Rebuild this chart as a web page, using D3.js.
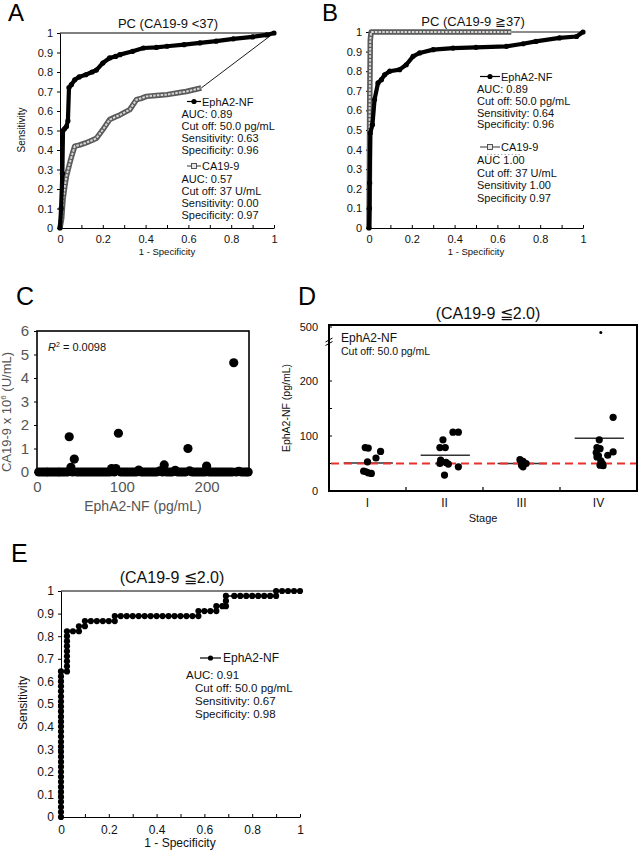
<!DOCTYPE html>
<html><head><meta charset="utf-8">
<script src="https://cdn.jsdelivr.net/npm/d3@7"></script>
<style>body{margin:0;background:#fff}</style>
</head><body>
<svg id="c" width="640" height="850" xmlns="http://www.w3.org/2000/svg"></svg>
<script>
// ---------------- DATA ----------------
const rocYTicks = [0,0.1,0.2,0.3,0.4,0.5,0.6,0.7,0.8,0.9,1];
const rocYLabels = ["0","0.1","0.2","0.3","0.4","0.5","0.6","0.7","0.8","0.9","1"];
const rocXMinor = [0,0.1,0.2,0.3,0.4,0.5,0.6,0.7,0.8,0.9,1];
const rocXTicks = [0,0.2,0.4,0.6,0.8,1];
const rocXLabels = ["0","0.2","0.4","0.6","0.8","1"];

// Panel A  PC (CA19-9 <37)
const aEphFpr = [0,0.005,0.011,0.014,0.022,0.03,0.037,0.042,0.053,0.069,0.09,0.12,0.15,0.17,0.2,0.232,0.26,0.28,0.34,0.39,0.45,0.5,0.58,0.654,0.73,0.81,0.9,0.966,1];
const aEphTpr = [0,0.1,0.28,0.5,0.51,0.52,0.55,0.72,0.735,0.76,0.775,0.786,0.8,0.81,0.846,0.872,0.88,0.889,0.906,0.923,0.926,0.932,0.94,0.949,0.958,0.97,0.98,0.99,1];
const aCaFpr = [0,0.008,0.014,0.022,0.03,0.045,0.055,0.069,0.09,0.12,0.15,0.17,0.2,0.232,0.26,0.28,0.326,0.357,0.38,0.404,0.45,0.5,0.56,0.59,0.63,0.66,1];
const aCaTpr = [0,0.05,0.145,0.21,0.265,0.33,0.37,0.42,0.425,0.436,0.45,0.46,0.504,0.556,0.57,0.58,0.607,0.658,0.665,0.675,0.68,0.684,0.695,0.70,0.71,0.718,1];
const aLegend1 = ["AUC: 0.89","Cut off: 50.0 pg/mL","Sensitivity: 0.63","Specificity: 0.96"];
const aLegend2 = ["AUC: 0.57","Cut off: 37 U/mL","Sensitivity: 0.00","Specificity: 0.97"];

// Panel B  PC (CA19-9 ≧37)
const bEphFpr = [0,0.002,0.003,0.006,0.016,0.026,0.042,0.058,0.073,0.097,0.143,0.174,0.206,0.237,0.3,0.393,0.5,0.642,0.72,0.78,0.89,0.97,1];
const bEphTpr = [0,0.1,0.23,0.485,0.527,0.655,0.74,0.757,0.782,0.8,0.808,0.833,0.876,0.893,0.91,0.918,0.922,0.927,0.94,0.952,0.97,0.977,1];
const bCaFpr = [0,0.002,0.003,0.006,0.01,0.1,0.2,0.3,0.4,0.5,0.6,0.665,1];
const bCaTpr = [0,0.3,0.6,0.96,1,1,1,1,1,1,1,1,1];
const bLegend1 = ["AUC: 0.89","Cut off: 50.0 pg/mL","Sensitivity: 0.64","Specificity: 0.96"];
const bLegend2 = ["AUC 1.00","Cut off: 37 U/mL","Sensitivity 1.00","Specificity 0.97"];

// Panel C  scatter
const cX = [38,40,44,88,93,96,120,145,150,163,178,180,200,232,238];
const cY = [1.5,0.2,0.55,0.15,0.15,1.65,0.08,0.05,0.3,0.07,1.0,0.05,0.25,4.65,0.03];
const cZeroX = [2,5,8,11,13,16,19,22,25,27,30,33,36,42,47,50,53,56,59,62,65,68,71,74,77,80,83,86,91,99,102,105,108,111,114,117,123,126,129,132,135,138,141,148,153,156,159,166,169,172,175,183,186,189,192,195,198,203,206,209,212,215,218,221,224,227,230,235,241,244,247,249];
const cXTicks = [0,100,200];
const cYTicks = [0,1,2,3,4,5,6];

// Panel D  stage dot plot
const stages = ["I","II","III","IV"];
const dStage = ["I","I","I","I","I","I","I","I","I",
  "II","II","II","II","II","II","II","II","II","II","II",
  "III","III","III","III","III",
  "IV","IV","IV","IV","IV","IV","IV","IV","IV","IV","IV","IV","IV"];
const dValue = [79,78,72,60,53,36,33,32,35,
  93,79,79,107,107,56,52,50,49,44,29,
  57,54,50,47,44,
  134,93,79,77,70,64,62,71,65,55,50,47,46];
const dJitter = [-0.03,0.01,0.17,0.11,0,-0.05,0.01,0.05,-0.02,
  -0.02,-0.06,0.01,0.11,0.18,-0.05,0.02,-0.06,0.05,0.18,0,
  -0.02,0.02,0.06,0,0.02,
  0.19,0.01,-0.02,0.02,-0.03,0,-0.02,0.19,0.12,0.03,0.05,0.02,0.06];
const dOutStage = ["IV"], dOutValue = [470], dOutJitter = [0.03];
const dMeans = [51,65,50,96];
const dCutoff = 50;
const dYTicks = [0,50,100,150,200,500];
const dYLabels = {0:"0",100:"100",200:"200",500:"500"};

// Panel E  ROC (CA19-9 ≦2.0)
const eFpr = [0,0,0,0,0,0,0,0,0,0,0,0,0,0,0,0,0,0,0,0,0,0,0,0,0,0,0,0,0,0,
  0.025,0.025,0.025,0.025,0.025,0.025,0.025,0.025,0.025,
  0.05,0.075,0.075,0.1,0.1,0.125,0.15,0.175,0.2,0.225,0.225,
  0.25,0.275,0.3,0.325,0.35,0.375,0.4,0.425,0.45,0.475,0.5,0.525,0.55,0.575,0.575,
  0.6,0.625,0.65,0.65,0.675,0.69,0.69,0.69,
  0.725,0.75,0.775,0.8,0.825,0.85,0.875,0.9,0.9,0.925,0.95,0.975,1];
const eTpr = [0,0.022,0.044,0.067,0.089,0.111,0.133,0.156,0.178,0.2,0.222,0.244,0.267,0.289,0.311,0.333,0.356,0.378,0.4,0.422,0.444,0.467,0.489,0.511,0.533,0.556,0.578,0.6,0.622,0.644,
  0.644,0.667,0.689,0.711,0.733,0.756,0.778,0.8,0.822,
  0.822,0.822,0.844,0.844,0.867,0.867,0.867,0.867,0.867,0.867,0.889,
  0.889,0.889,0.889,0.889,0.889,0.889,0.889,0.889,0.889,0.889,0.889,0.889,0.889,0.889,0.911,
  0.911,0.911,0.911,0.933,0.933,0.933,0.956,0.978,
  0.978,0.978,0.978,0.978,0.978,0.978,0.978,0.978,1,1,1,1,1];
const eLegend = ["Cut off: 50.0 pg/mL","Sensitivity: 0.67","Specificity: 0.98"];

// ---------------- DRAWING ----------------
const FONT = 'Arial, "Liberation Sans", Helvetica, sans-serif';
const svg = d3.select('#c').attr('font-family', FONT);

function txt(g, x, y, s, o = {}) {
  const t = g.append('text').attr('x', x).attr('y', y).text(s)
    .attr('font-size', o.fs || 11).attr('fill', o.fill || '#111')
    .attr('text-anchor', o.anchor || 'start');
  if (o.rot) t.attr('transform', `rotate(-90 ${x} ${y})`);
  return t;
}

function rocAxes(g, x, y, p) {
  const ya = d3.axisLeft(y).tickValues(rocYTicks).tickFormat((d, i) => rocYLabels[i])
    .tickSize(3).tickSizeOuter(0).tickPadding(4);
  const ga = g.append('g').attr('transform', `translate(${p.xr[0]},0)`).call(ya);
  ga.selectAll('text').attr('font-size', p.fs).attr('fill', '#111').attr('font-family', FONT);
  ga.selectAll('line,path').attr('stroke', '#000');
  const xa = d3.axisBottom(x).tickValues(rocXMinor)
    .tickFormat(d => { const i = rocXTicks.findIndex(v => Math.abs(v - d) < 1e-9); return i >= 0 ? rocXLabels[i] : ''; })
    .tickSize(-3).tickSizeOuter(0).tickPadding(p.xpad);
  const gb = g.append('g').attr('transform', `translate(0,${p.yr[0]})`).call(xa);
  gb.selectAll('text').attr('font-size', p.fs).attr('fill', '#111').attr('font-family', FONT);
  gb.selectAll('line,path').attr('stroke', '#000');
  if (p.top) g.append('line').attr('x1', x(0)).attr('x2', x(1)).attr('y1', y(1)).attr('y2', y(1)).attr('stroke', '#000').attr('stroke-width', 1);
}

function pts(fpr, tpr) { return fpr.map((f, i) => [f, tpr[i]]); }

function drawEph(g, x, y, data) {
  const line = d3.line().x(d => x(d[0])).y(d => y(d[1]));
  g.append('path').attr('d', line(data)).attr('fill', 'none').attr('stroke', '#000').attr('stroke-width', 4.2).attr('stroke-linejoin', 'round');
  g.selectAll(null).data(data).enter().append('circle')
    .attr('cx', d => x(d[0])).attr('cy', d => y(d[1])).attr('r', 2.6).attr('fill', '#000');
}

function drawCa(g, x, y, data) {
  const main = data.slice(0, data.length - 1);
  const tail = data.slice(data.length - 2);
  const line = d3.line().x(d => x(d[0])).y(d => y(d[1]));
  g.append('path').attr('d', line(tail)).attr('fill', 'none').attr('stroke', '#000').attr('stroke-width', 0.9);
  g.append('path').attr('d', line(main)).attr('fill', 'none').attr('stroke', '#5a5a5a').attr('stroke-width', 5.5).attr('stroke-linejoin', 'round');
  g.append('path').attr('d', line(main)).attr('fill', 'none').attr('stroke', '#d6d6d6').attr('stroke-width', 2).attr('stroke-dasharray', '2.5,1.2');
}

function legEph(g, x1, x2, y) {
  g.append('line').attr('x1', x1).attr('x2', x2).attr('y1', y).attr('y2', y).attr('stroke', '#000').attr('stroke-width', 1.2);
  g.append('circle').attr('cx', (x1 + x2) / 2).attr('cy', y).attr('r', 2.6).attr('fill', '#000');
}
function legCa(g, x1, x2, y) {
  g.append('line').attr('x1', x1).attr('x2', x2).attr('y1', y).attr('y2', y).attr('stroke', '#333').attr('stroke-width', 1);
  g.append('rect').attr('x', (x1 + x2) / 2 - 2.5).attr('y', y - 2.5).attr('width', 5).attr('height', 5).attr('fill', '#e6e6e6').attr('stroke', '#444').attr('stroke-width', 0.9);
}

// ---- Panel A ----
(function () {
  const p = { xr: [60, 274], yr: [228, 33], fs: 11, xpad: 7, top: true };
  const x = d3.scaleLinear().domain([0, 1]).range(p.xr);
  const y = d3.scaleLinear().domain([0, 1]).range(p.yr);
  const g = svg.append('g');
  rocAxes(g, x, y, p);
  drawCa(g, x, y, pts(aCaFpr, aCaTpr));
  drawEph(g, x, y, pts(aEphFpr, aEphTpr));
  txt(g, 8, 21, 'A', { fs: 24, fill: '#000' });
  txt(g, 168, 28, 'PC (CA19-9 <37)', { fs: 13, anchor: 'middle' });
  txt(g, 167, 255, '1 - Specificity', { fs: 9.5, anchor: 'middle' });
  txt(g, 25, 130, 'Sensitivity', { fs: 10, anchor: 'middle', rot: true });
  legEph(g, 187, 201, 101.5);
  txt(g, 202, 105.5, 'EphA2-NF', { fs: 11 });
  aLegend1.forEach((s, i) => txt(g, 181.5, 117.5 + i * 12, s, { fs: 11 }));
  legCa(g, 187, 201, 166);
  txt(g, 202, 170, 'CA19-9', { fs: 11 });
  aLegend2.forEach((s, i) => txt(g, 181.5, 183 + i * 12, s, { fs: 11 }));
})();

// ---- Panel B ----
(function () {
  const p = { xr: [369, 583], yr: [228, 32], fs: 11, xpad: 7, top: false };
  const x = d3.scaleLinear().domain([0, 1]).range(p.xr);
  const y = d3.scaleLinear().domain([0, 1]).range(p.yr);
  const g = svg.append('g');
  rocAxes(g, x, y, p);
  drawCa(g, x, y, pts(bCaFpr, bCaTpr));
  drawEph(g, x, y, pts(bEphFpr, bEphTpr));
  txt(g, 322, 21, 'B', { fs: 24, fill: '#000' });
  txt(g, 473, 26, 'PC (CA19-9 \u226737)', { fs: 13, anchor: 'middle' });
  txt(g, 476, 255, '1 - Specificity', { fs: 9.5, anchor: 'middle' });
  legEph(g, 480, 500, 76.5);
  txt(g, 501, 80.5, 'EphA2-NF', { fs: 11 });
  bLegend1.forEach((s, i) => txt(g, 477, 93 + i * 11.8, s, { fs: 11 }));
  legCa(g, 480, 500, 147);
  txt(g, 501, 151, 'CA19-9', { fs: 11 });
  g.append('line').attr('x1', 487).attr('x2', 520).attr('y1', 154.5).attr('y2', 154.5)
    .attr('stroke', '#999').attr('stroke-width', 0.8).attr('stroke-dasharray', '1.5,2');
  bLegend2.forEach((s, i) => txt(g, 477, 164 + i * 12.6, s, { fs: 11 }));
})();

// ---- Panel C ----
(function () {
  const x = d3.scaleLinear().domain([0, 250]).range([37, 249]);
  const y = d3.scaleLinear().domain([0, 6]).range([472, 331]);
  const g = svg.append('g');
  const gray = '#555';
  const ya = d3.axisLeft(y).tickValues(cYTicks).tickFormat(d3.format('d')).tickSize(3).tickSizeOuter(0).tickPadding(5);
  const ga = g.append('g').attr('transform', 'translate(37,0)').call(ya);
  ga.selectAll('text').attr('font-size', 15).attr('fill', gray).attr('font-family', FONT);
  ga.selectAll('line').attr('stroke', '#000');
  ga.select('.domain').remove();
  const xa = d3.axisBottom(x).tickValues(cXTicks).tickFormat(d3.format('d')).tickSize(3).tickSizeOuter(0).tickPadding(6);
  const gb = g.append('g').attr('transform', 'translate(0,472)').call(xa);
  gb.selectAll('text').attr('font-size', 15).attr('fill', gray).attr('font-family', FONT);
  gb.selectAll('line').attr('stroke', '#000');
  gb.select('.domain').remove();
  g.append('rect').attr('x', 37).attr('y', 331).attr('width', 212).attr('height', 141)
    .attr('fill', 'none').attr('stroke', '#000').attr('stroke-width', 1.6);
  g.selectAll(null).data(cZeroX).enter().append('circle')
    .attr('cx', d => x(d)).attr('cy', y(0)).attr('r', 4.6).attr('fill', '#000');
  g.selectAll(null).data(cX.map((v, i) => [v, cY[i]])).enter().append('circle')
    .attr('cx', d => x(d[0])).attr('cy', d => y(d[1])).attr('r', 4.6).attr('fill', '#000');
  txt(g, 16, 305, 'C', { fs: 25, fill: '#000' });
  const rt = txt(g, 48, 351, '', { fs: 11 });
  rt.append('tspan').attr('font-style', 'italic').text('R');
  rt.append('tspan').attr('dy', -4).attr('font-size', 7).text('2');
  rt.append('tspan').attr('dy', 4).text(' = 0.0098');
  txt(g, 143, 511, 'EphA2-NF (pg/mL)', { fs: 14, fill: gray, anchor: 'middle' });
  const yl = txt(g, 11, 412, '', { fs: 13, fill: gray, anchor: 'middle', rot: true });
  yl.append('tspan').text('CA19-9 x 10');
  yl.append('tspan').attr('dy', -5).attr('font-size', 8).text('6');
  yl.append('tspan').attr('dy', 5).text(' (U/mL)');
})();

// ---- Panel D ----
(function () {
  const x = d3.scaleBand().domain(stages).range([329, 637]);
  const y = d3.scaleLinear().domain([0, 200, 500]).range([491, 381, 327]);
  const bw = x.bandwidth();
  const cx = s => x(s) + bw / 2;
  const g = svg.append('g');
  // y ticks (inside) and labels
  dYTicks.forEach(v => {
    g.append('line').attr('x1', 329).attr('x2', 332).attr('y1', y(v)).attr('y2', y(v)).attr('stroke', '#000');
    if (dYLabels[v]) txt(g, 318, y(v) + 4, dYLabels[v], { fs: 11, anchor: 'end' });
  });
  // x ticks at band boundaries
  stages.slice(1).forEach(s => {
    g.append('line').attr('x1', x(s)).attr('x2', x(s)).attr('y1', 491).attr('y2', 487).attr('stroke', '#000').attr('stroke-width', 1.2);
  });
  stages.forEach(s => txt(g, cx(s), 507, s, { fs: 12, anchor: 'middle' }));
  // mean lines
  g.selectAll(null).data(stages.map((s, i) => [s, dMeans[i]])).enter().append('line')
    .attr('x1', d => cx(d[0]) - 0.31 * bw).attr('x2', d => cx(d[0]) + 0.33 * bw)
    .attr('y1', d => y(d[1])).attr('y2', d => y(d[1])).attr('stroke', '#333').attr('stroke-width', 1.5);
  // cutoff
  g.append('line').attr('x1', 331).attr('x2', 636).attr('y1', y(dCutoff)).attr('y2', y(dCutoff))
    .attr('stroke', '#e8302c').attr('stroke-width', 2.2).attr('stroke-dasharray', '8,5');
  // points
  g.selectAll(null).data(dStage.map((s, i) => [s, dValue[i], dJitter[i]])).enter().append('circle')
    .attr('cx', d => cx(d[0]) + d[2] * bw).attr('cy', d => y(d[1])).attr('r', 3.6).attr('fill', '#000');
  g.selectAll(null).data(dOutStage.map((s, i) => [s, dOutValue[i], dOutJitter[i]])).enter().append('circle')
    .attr('cx', d => cx(d[0]) + d[2] * bw).attr('cy', d => y(d[1])).attr('r', 1.5).attr('fill', '#000');
  // frame
  g.append('rect').attr('x', 329).attr('y', 325).attr('width', 308).attr('height', 166)
    .attr('fill', 'none').attr('stroke', '#000').attr('stroke-width', 2);
  // axis break mark
  g.append('path').attr('d', 'M325.5,345.5 l7,-4 M325.5,342 l7,-4').attr('stroke', '#000').attr('stroke-width', 1).attr('fill', 'none');
  txt(g, 341, 342, 'EphA2-NF', { fs: 12 });
  txt(g, 341, 355, 'Cut off: 50.0 pg/mL', { fs: 10.5 });
  txt(g, 298, 305, 'D', { fs: 25, fill: '#000' });
  txt(g, 488, 319, '(CA19-9 \u22662.0)', { fs: 16, anchor: 'middle' });
  txt(g, 483, 522, 'Stage', { fs: 11, anchor: 'middle' });
  txt(g, 290, 408, 'EphA2-NF (pg/mL)', { fs: 10.5, anchor: 'middle', rot: true });
})();

// ---- Panel E ----
(function () {
  const p = { xr: [61, 300], yr: [817, 591], fs: 12, xpad: 8, top: true };
  const x = d3.scaleLinear().domain([0, 1]).range(p.xr);
  const y = d3.scaleLinear().domain([0, 1]).range(p.yr);
  const g = svg.append('g');
  rocAxes(g, x, y, p);
  const data = pts(eFpr, eTpr);
  const line = d3.line().x(d => x(d[0])).y(d => y(d[1]));
  g.append('path').attr('d', line(data)).attr('fill', 'none').attr('stroke', '#000').attr('stroke-width', 1.6);
  g.selectAll(null).data(data).enter().append('circle')
    .attr('cx', d => x(d[0])).attr('cy', d => y(d[1])).attr('r', 3.1).attr('fill', '#000');
  txt(g, 11, 562, 'E', { fs: 25, fill: '#000' });
  txt(g, 172, 583, '(CA19-9 \u22662.0)', { fs: 16, anchor: 'middle' });
  txt(g, 180, 847, '1 - Specificity', { fs: 12, anchor: 'middle' });
  txt(g, 27, 703, 'Sensitivity', { fs: 12, anchor: 'middle', rot: true });
  legEph(g, 200, 221, 658);
  txt(g, 223, 662, 'EphA2-NF', { fs: 12 });
  txt(g, 186, 679, 'AUC: 0.91', { fs: 11.5 });
  eLegend.forEach((s, i) => txt(g, 195, 692 + i * 12.8, s, { fs: 11.5 }));
})();
</script>
</body></html>
